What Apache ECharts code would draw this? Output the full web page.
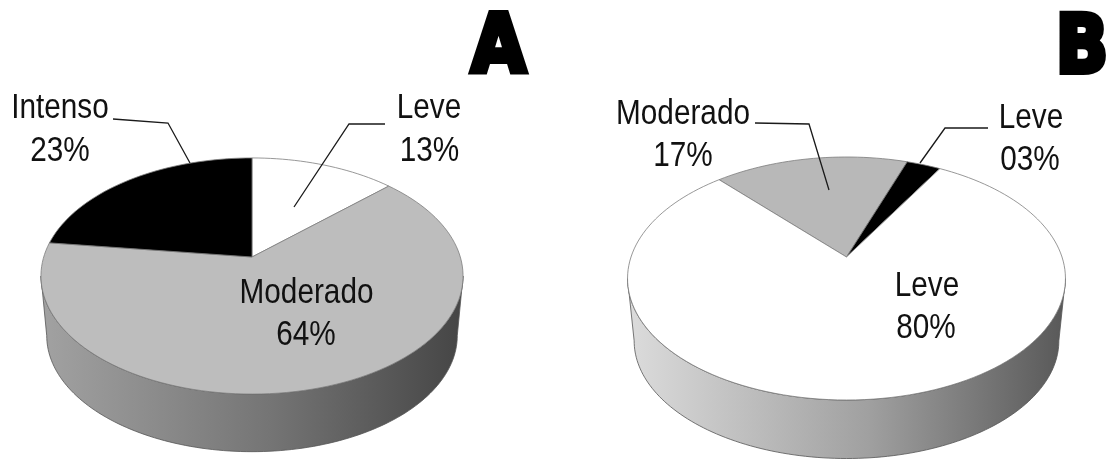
<!DOCTYPE html>
<html>
<head>
<meta charset="utf-8">
<style>html,body{margin:0;padding:0;background:#fff}#c{width:1115px;height:459px}</style>
<script src="https://cdn.jsdelivr.net/npm/echarts@6/dist/echarts.min.js"></script>
</head>
<body>
<div id="c"></div>
<script>
// Severity shares for the two groups, clockwise from each pie's start angle
const sharesA = [13, 64, 23];
const namesA = ['Leve', 'Moderado', 'Intenso'];
const sharesB = [17, 3, 80];
const namesB = ['Moderado', 'Leve', 'Leve'];

const FONT = '"Liberation Sans", Arial, sans-serif';

// Tilted-disc geometry: a circle seen in perspective, so the hub sits above the ellipse centre
const pies = [
  {
    values: sharesA, names: namesA, startDeg: 0, letter: 'A',
    top: {cx: 252, hub: 257, a: 208.3, b: 115, p: 0.161},
    bottom: {cx: 252, hub: 317, a: 202.6, b: 113, p: 0.161},
    fills: ['#ffffff', '#bdbdbd', '#000000'],
    wall: [['0', '#a2a2a2'], ['0.55', '#747474'], ['1', '#454545']],
    letterPos: [498.5, 91], letterScale: 0.87,
    labels: [
      {pos: [429, 108], text: 'Leve'}, {pos: [429.5, 151], text: '13%'},
      {pos: [306.5, 293], text: 'Moderado'}, {pos: [306, 335], text: '64%'},
      {pos: [60, 108], text: 'Intenso'}, {pos: [60, 151], text: '23%'}
    ],
    leaders: [
      [[385, 124], [349, 124], [294, 207]],
      [[113, 119], [168, 123], [190, 163]]
    ]
  },
  {
    values: sharesB, names: namesB, startDeg: -42, letter: 'B',
    top: {cx: 846.5, hub: 257, a: 215.5, b: 117.7, p: 0.177},
    bottom: {cx: 846.5, hub: 320, a: 209, b: 114, p: 0.177},
    fills: ['#b8b8b8', '#000000', '#ffffff'],
    wall: [['0', '#dcdcdc'], ['0.55', '#a0a0a0'], ['1', '#585858']],
    letterPos: [1082, 91], letterScale: 0.85,
    labels: [
      {pos: [683, 114], text: 'Moderado'}, {pos: [683, 156], text: '17%'},
      {pos: [1031, 118], text: 'Leve'}, {pos: [1030, 160], text: '03%'},
      {pos: [927, 286], text: 'Leve'}, {pos: [926, 328], text: '80%'}
    ],
    leaders: [
      [[755, 123], [809, 124], [829, 190]],
      [[988, 128], [945, 128], [920, 163]]
    ]
  }
];

// Project a point of the unit disc onto the screen
function project(g, u, v) {
  const w = 1 - g.p * v;
  return [g.cx + g.a * u / w, g.hub + g.b * v / w];
}

// Rim point for an angle measured clockwise from twelve o'clock
function rim(g, deg) {
  const t = deg * Math.PI / 180;
  return project(g, Math.sin(t), -Math.cos(t));
}

function slicePoints(g, from, to) {
  const pts = [[g.cx, g.hub]];
  const steps = Math.max(2, Math.ceil((to - from) / 2));
  for (let i = 0; i <= steps; i++) pts.push(rim(g, from + (to - from) * i / steps));
  return pts;
}

// Front arc of a disc, between its two horizontal extremes
function frontArc(g) {
  const s = Math.asin(g.p);
  const pts = [];
  for (let i = 0; i <= 120; i++) {
    const t = s + (Math.PI - 2 * s) * i / 120;
    pts.push(project(g, Math.cos(t), Math.sin(t)));
  }
  return pts;
}

function wallElement(pie) {
  const upper = frontArc(pie.top);
  const lower = frontArc(pie.bottom).reverse();
  return {
    type: 'polygon',
    shape: {points: upper.concat(lower)},
    style: {
      fill: new echarts.graphic.LinearGradient(0, 0, 1, 0,
        pie.wall.map(s => ({offset: +s[0], color: s[1]}))),
      stroke: '#555555', lineWidth: 0.8
    }
  };
}

function pieElements(pie) {
  const total = pie.values.reduce((a, b) => a + b, 0);
  const out = [wallElement(pie)];
  let angle = pie.startDeg;
  pie.values.forEach((val, i) => {
    const sweep = val / total * 360;
    out.push({
      type: 'polygon',
      shape: {points: slicePoints(pie.top, angle, angle + sweep)},
      style: {fill: pie.fills[i], stroke: '#7d7d7d', lineWidth: 0.8, lineJoin: 'round'}
    });
    angle += sweep;
  });
  pie.leaders.forEach(points => out.push({
    type: 'polyline',
    shape: {points},
    style: {fill: null, stroke: '#1a1a1a', lineWidth: 1.3}
  }));
  pie.labels.forEach(l => out.push({
    type: 'text', x: l.pos[0], y: l.pos[1], scaleX: 0.85,
    style: {
      text: l.text, fill: '#111111', font: '35px ' + FONT,
      textAlign: 'center', textVerticalAlign: 'middle'
    }
  }));
  out.push({
    type: 'text', x: pie.letterPos[0], y: pie.letterPos[1], scaleX: pie.letterScale,
    style: {
      text: pie.letter, fill: '#000000', stroke: '#000000', lineWidth: 6,
      font: '900 81px "DejaVu Sans", sans-serif',
      textAlign: 'center', textVerticalAlign: 'bottom'
    }
  });
  return {type: 'group', children: out};
}

const chart = echarts.init(document.getElementById('c'), null, {renderer: 'canvas'});
chart.setOption({
  animation: false,
  backgroundColor: '#ffffff',
  series: [{
    type: 'custom',
    coordinateSystem: 'none',
    data: pies.map((_, i) => [i]),
    silent: true,
    renderItem: (params) => pieElements(pies[params.dataIndex])
  }]
});
</script>
</body>
</html>
